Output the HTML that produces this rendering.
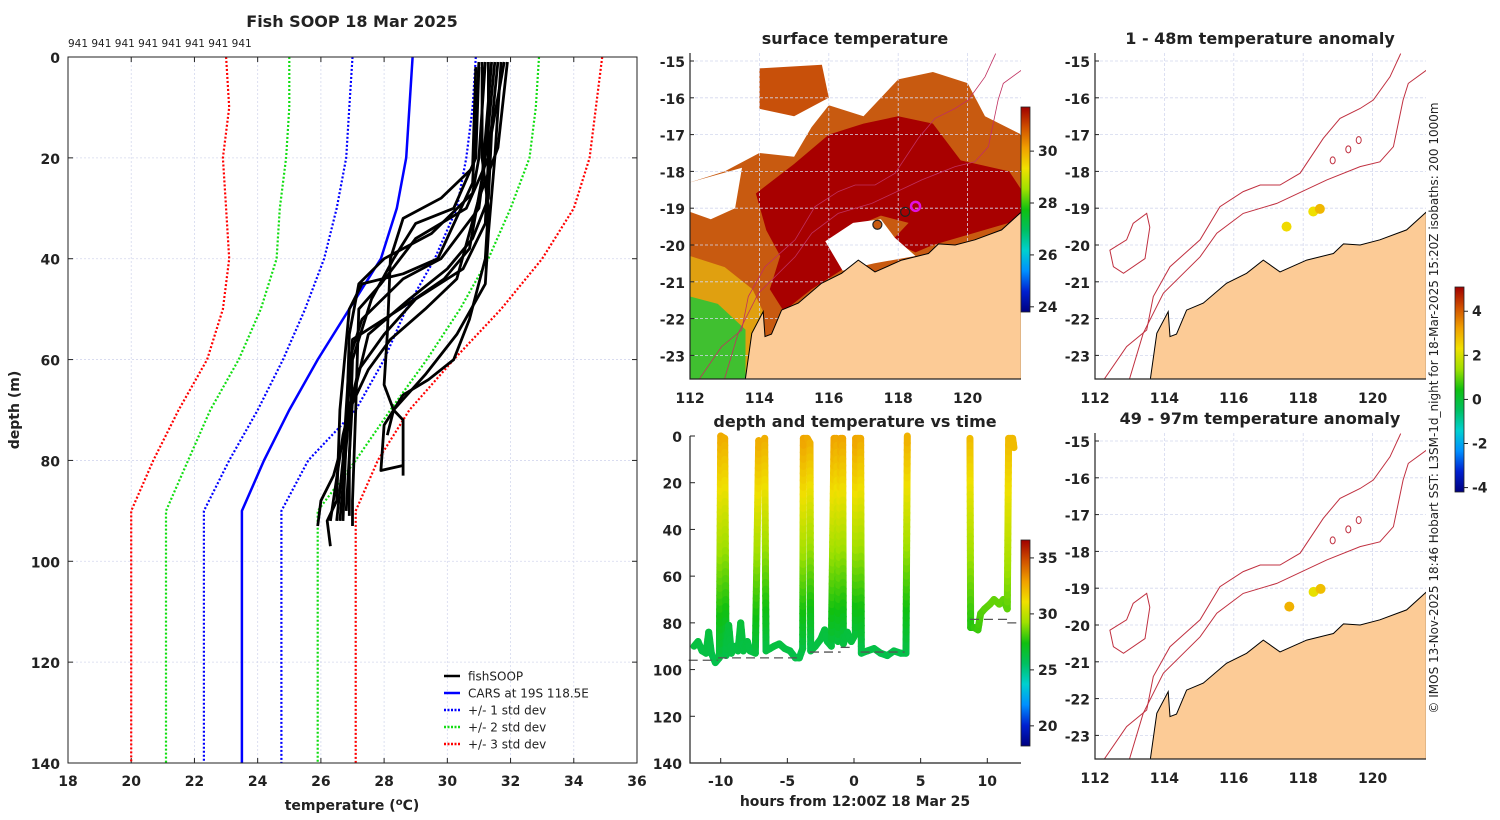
<!DOCTYPE html>
<html><head><meta charset="utf-8"><style>
html,body{margin:0;padding:0;background:#fff}
svg{display:block}
text{font-family:"DejaVu Sans","Liberation Sans",sans-serif;fill:#222}
.tk{font-size:14px;font-weight:bold}
.tt{font-size:16px;font-weight:bold}
</style></head><body>
<svg id="fig" width="1500" height="820" viewBox="0 0 1500 820" xmlns="http://www.w3.org/2000/svg">
<defs id="defs"></defs>
</svg>
<script>
// ---------- data ----------
var profileDepths=[0,10,20,30,40,50,60,70,80,90,140];
var carsMean=[28.9,28.8,28.7,28.4,27.9,26.9,25.9,25.0,24.2,23.5,23.5];
var minus1=[27.0,26.9,26.8,26.5,26.1,25.5,24.8,24.0,23.1,22.3,22.3];
var plus1=[30.9,30.8,30.6,30.3,29.6,28.7,28.0,27.1,25.6,24.75,24.75];
var minus2=[25.0,25.0,24.9,24.7,24.6,24.1,23.4,22.5,21.8,21.1,21.1];
var plus2=[32.9,32.8,32.6,32.0,31.3,30.4,29.35,28.2,27.1,25.9,25.9];
var minus3=[23.0,23.1,22.9,23.0,23.1,22.9,22.4,21.5,20.7,20.0,20.0];
var plus3=[34.9,34.7,34.5,34.0,33.0,31.7,30.2,28.8,27.8,27.1,27.1];
var fishProfiles=[
[[31.2,1],[31.0,20],[30.8,27],[29.5,35],[28.0,40],[27.2,45],[26.9,55],[26.8,75],[26.7,92]],
[[31.5,1],[31.2,20],[31.0,30],[29.8,40],[28.6,44],[27.3,52],[26.9,60],[26.7,80],[26.5,92]],
[[31.0,2],[30.9,20],[30.2,30],[29.0,33],[28.3,40],[27.6,48],[27.0,60],[26.9,80],[26.9,91]],
[[31.8,1],[31.4,15],[31.3,28],[30.8,36],[30.0,42],[28.8,48],[27.5,55],[27.0,68],[26.8,90]],
[[31.3,1],[31.3,20],[31.2,33],[30.5,42],[29.0,48],[28.0,55],[27.2,62],[26.7,75],[26.3,92]],
[[31.1,1],[31.1,20],[31.3,30],[31.2,40],[30.7,52],[30.2,60],[29.4,64],[28.6,67],[28.0,73],[27.9,82],[28.6,81]],
[[31.7,1],[31.5,20],[31.3,35],[31.2,45],[30.3,55],[29.3,63],[28.3,70],[28.1,75]],
[[30.9,2],[30.8,22],[29.8,28],[28.6,32],[28.2,40],[28.1,55],[28.0,65],[28.3,70],[28.6,72],[28.6,83]],
[[31.0,1],[30.8,25],[29.7,40],[28.6,43],[27.3,45],[26.9,50],[26.6,70],[26.5,88],[26.2,92],[26.3,97]],
[[31.6,1],[31.3,20],[30.6,30],[29.0,36],[27.9,45],[27.2,50],[27.1,70],[27.0,88],[27.0,93]],
[[31.4,1],[31.1,24],[30.7,38],[29.9,44],[28.5,50],[27.0,56],[26.8,74],[26.4,83],[26.0,88],[25.9,93]],
[[31.9,1],[31.6,18],[31.0,28],[30.3,44],[29.3,50],[28.2,56],[27.5,62],[26.9,70],[26.6,92]]
];
var xTicksTemp=[18,20,22,24,26,28,30,32,34,36];
var yTicksDepth=[0,20,40,60,80,100,120,140];
var dropLabels=["941","941","941","941","941","941","941","941"];

var group1Hours=[-12.0,-11.7,-11.4,-11.1,-10.9,-10.7,-10.4,-10.1,-10.0,-9.7,-9.6,-9.4,-9.2,-8.9,-8.7,-8.5,-8.3,-8.0,-7.8,-7.4,-7.15,-6.9,-6.7,-6.6,-6.3,-6.0,-5.6,-5.2,-4.8,-4.4,-4.1,-3.85,-3.8,-3.5,-3.3,-3.25,-2.9,-2.5,-2.2,-2.0,-1.7,-1.5,-1.3,-1.2,-1.0,-0.85,-0.8,-0.5,-0.2,0.1,0.12,0.3,0.5,0.55,1.0,1.5,2.0,2.5,3.0,3.5,3.9,4.0];
var group1Depths=[90,88,92,93,84,93,97,95,0,1,94,81,93,90,92,80,92,88,92,93,2,3,1,92,91,90,89,91,92,95,95,91,1,1,3,92,90,87,83,88,90,1,1,88,1,1,89,84,88,85,1,1,1,93,92,91,93,94,92,93,93,0];
var group1Temps=[26.3,26.3,26.2,26.2,26.4,26.2,26.0,26.1,32.6,32.6,26.1,26.5,26.2,26.2,26.2,26.5,26.2,26.3,26.2,26.2,32.6,32.5,32.6,26.2,26.2,26.3,26.3,26.2,26.2,26.1,26.1,26.2,32.8,32.7,32.5,26.1,26.2,26.3,26.4,26.3,26.2,32.8,32.8,26.3,32.8,32.8,26.3,26.4,26.3,26.4,32.8,32.7,32.7,26.1,26.1,26.2,26.1,26.0,26.1,26.1,26.0,32.5];
var group2Hours=[8.7,8.75,9.0,9.3,9.5,9.8,10.2,10.5,10.9,11.2,11.5,11.6,11.9,12.0];
var group2Depths=[1,82,82,83,76,74,72,70,72,70,74,1,1,5];
var group2Temps=[32.2,27.6,27.8,27.9,28.2,28.3,28.4,28.5,28.4,28.5,28.3,32.2,32.2,32.1];
var bottomHours=[-12.4,-10.2,-10.2,-4.0,-3.3,-1.0,-1.0,0.0,0.5,3.8,8.7,11.5,11.5,12.6];
var bottomDepths=[96,96,95,95,92.5,92.5,90.5,90.5,92.5,92.5,78.5,78.5,80,80];
var xTicksHours=[-10,-5,0,5,10];
var yTicksDepth2=[0,20,40,60,80,100,120,140];
var cbTicksTime=[20,25,30,35];

var lonTicks=[112,114,116,118,120];
var latTicks=[-15,-16,-17,-18,-19,-20,-21,-22,-23];
var sstTicks=[24,26,28,30];
var anomTicks=[-4,-2,0,2,4];
var coastLon=[113.58,113.78,114.11,114.16,114.35,114.64,115.12,115.79,116.37,116.85,117.33,118.1,118.87,119.16,119.64,120.21,120.98,121.55,121.55];
var coastLat=[-23.75,-22.4,-21.81,-22.49,-22.42,-21.77,-21.58,-21.04,-20.77,-20.41,-20.73,-20.41,-20.23,-19.97,-20.0,-19.86,-19.59,-19.1,-23.75];
var iso200Lon=[112.96,113.39,113.97,115.03,115.51,116.27,117.24,118.68,119.64,120.21,120.6,120.88,121.03,121.55];
var iso200Lat=[-23.75,-22.4,-21.31,-20.32,-19.68,-19.14,-18.87,-18.23,-17.87,-17.74,-17.33,-16.06,-15.61,-15.25];
var iso1000Lon=[112.19,112.91,113.49,113.68,114.16,115.03,115.6,116.27,116.76,117.33,117.91,118.58,119.06,119.64,120.02,120.5,120.81];
var iso1000Lat=[-23.75,-22.76,-22.31,-21.4,-20.59,-19.86,-18.96,-18.55,-18.37,-18.37,-18.05,-17.1,-16.56,-16.29,-16.06,-15.43,-14.8];
var islandLon=[112.43,112.91,113.1,113.49,113.58,113.44,112.82,112.53];
var islandLat=[-20.14,-19.86,-19.41,-19.14,-19.52,-20.37,-20.77,-20.59];
var sstOrangeLon=[112,113,114,115,115.5,116,117,118,119,120,120.5,121.55,121.55,114.3,113.6,112];
var sstOrangeLat=[-18.3,-18,-17.5,-17.6,-16.8,-16.2,-16.5,-15.5,-15.3,-15.6,-16.5,-17,-20,-22.6,-23.75,-23.75];
var sstRedLon=[113.9,115,116,117,118,119,119.8,121.2,121.55,121.55,119,118.5,117.8,118.3,117.5,116.5,116.0,116.5,115.5,114.7,114.3,114.6,114.2];
var sstRedLat=[-18.6,-17.8,-17.0,-16.7,-16.5,-16.7,-17.7,-18.0,-18.5,-19.3,-20.0,-20.2,-19.9,-19.4,-19.2,-19.6,-20.0,-20.6,-21.2,-21.8,-21.2,-20.3,-19.6];
var sstClearLon=[115.9,116.7,117.5,117.9,118.5,117.3,116.4];
var sstClearLat=[-19.9,-19.4,-19.3,-19.8,-20.3,-20.5,-20.7];
var sstYellowLon=[112,113,113.8,114.1,113.8,112];
var sstYellowLat=[-20.3,-20.6,-21.2,-21.8,-23.75,-23.75];
var sstGreenLon=[112,112.8,113.6,113.6,112];
var sstGreenLat=[-21.4,-21.6,-22.3,-23.75,-23.75];
var sstNorthLon=[114,115.8,116,115,114];
var sstNorthLat=[-15.2,-15.1,-16,-16.5,-16.3];
var sstCloudLon=[112,113.5,113.3,112.6,112];
var sstCloudLat=[-18.3,-17.9,-19.0,-19.3,-19.1];
var anomTopLon=[117.52,118.29,118.48];
var anomTopLat=[-19.5,-19.09,-19.02];
var anomTopVal=[2.4,2.3,2.9];
var anomBotLon=[117.6,118.3,118.5];
var anomBotLat=[-19.5,-19.1,-19.02];
var anomBotVal=[3.0,2.2,2.8];

// ---------- helpers ----------
var NS="http://www.w3.org/2000/svg";
var svg=document.getElementById('fig');
function mk(tag,parent){var e=document.createElementNS(NS,tag);(parent||svg).appendChild(e);return e;}
function set(e,o){for(var k in o)e.setAttribute(k,o[k]);return e;}
var stops=[[0,'#00007f'],[0.1,'#0020d0'],[0.2,'#0090ff'],[0.3,'#00d0d0'],[0.4,'#00c060'],[0.5,'#10c010'],[0.6,'#a0e000'],[0.7,'#f0e000'],[0.8,'#f0a000'],[0.9,'#d05000'],[1,'#a00000']];
function hx(c){return [parseInt(c.substr(1,2),16),parseInt(c.substr(3,2),16),parseInt(c.substr(5,2),16)];}
function cmap(f){f=Math.max(0,Math.min(1,f));for(var i=1;i<stops.length;i++){if(f<=stops[i][0]){var a=stops[i-1],b=stops[i],t=(f-a[0])/(b[0]-a[0]);var ca=hx(a[1]),cb=hx(b[1]);return 'rgb('+ca.map(function(v,j){return Math.round(v+(cb[j]-v)*t);}).join(',')+')';}}return stops[stops.length-1][1];}
var defs=document.getElementById('defs');
var grad=mk('linearGradient',defs);set(grad,{id:'jet',x1:0,y1:1,x2:0,y2:0});
stops.forEach(function(s){var st=mk('stop',grad);set(st,{offset:s[0],'stop-color':s[1]});});
function txt(x,y,s,cls,anchor,parent){var t=mk('text',parent);set(t,{x:x,y:y,'text-anchor':anchor||'middle'});if(cls)t.setAttribute('class',cls);t.textContent=s;return t;}
function pathFrom(xs,ys,close){var d='';for(var i=0;i<xs.length;i++)d+=(i?'L':'M')+xs[i].toFixed(1)+' '+ys[i].toFixed(1);return d+(close?'Z':'');}

// ---------- left profile panel ----------
var L={x0:68,x1:637,y0:57,y1:763};
function sx(t){return L.x0+(t-18)*(L.x1-L.x0)/18;}
function sy(d){return L.y0+d*(L.y1-L.y0)/140;}
var gL=mk('g');
var t1=txt(352,27,'Fish SOOP 18 Mar 2025','tt','middle',gL);
var dl=txt(68,47,dropLabels.join(' '),null,'start',gL);dl.setAttribute('font-size','10.5');
xTicksTemp.forEach(function(v){var x=sx(v);
 var g=mk('line',gL);set(g,{x1:x,x2:x,y1:L.y0,y2:L.y1,stroke:'#d4d8ee','stroke-width':0.8,'stroke-dasharray':'2,2'});
 
 var tk=mk('line',gL);set(tk,{x1:x,x2:x,y1:L.y0,y2:L.y0+5,stroke:'#222'});
 var tb=mk('line',gL);set(tb,{x1:x,x2:x,y1:L.y1,y2:L.y1-5,stroke:'#222'});
 var l=txt(x,786,String(v),'tk','middle',gL);});
yTicksDepth.forEach(function(v){var y=sy(v);
 var g=mk('line',gL);set(g,{x1:L.x0,x2:L.x1,y1:y,y2:y,stroke:'#d4d8ee','stroke-width':0.8,'stroke-dasharray':'2,2'});
 
 var tk=mk('line',gL);set(tk,{x1:L.x0,x2:L.x0+5,y1:y,y2:y,stroke:'#222'});
 var tr=mk('line',gL);set(tr,{x1:L.x1,x2:L.x1-5,y1:y,y2:y,stroke:'#222'});
 var l=txt(L.x0-8,y+6,String(v),'tk','end',gL);});
var xt=txt(352,810,'','tk','middle',gL);xt.setAttribute('font-size','15');xt.innerHTML='temperature (<tspan baseline-shift="super" font-size="10">o</tspan>C)';

var yt=txt(0,0,'depth (m)','tk','middle',gL);yt.setAttribute('font-size','15');set(yt,{transform:'translate(19,410) rotate(-90)'});

function refLine(arr,color,dash,name){var p=mk('path',gL);
 set(p,{d:pathFrom(arr.map(sx),profileDepths.map(sy)),fill:'none',stroke:color,'stroke-width':dash?2.2:2.5});
 if(dash)p.setAttribute('stroke-dasharray','2,2');}
refLine(minus3,'#f00',true,'minus-3-std-line');refLine(plus3,'#f00',true,'plus-3-std-line');
refLine(minus2,'#1d1',true,'minus-2-std-line');refLine(plus2,'#1d1',true,'plus-2-std-line');
refLine(minus1,'#00f',true,'minus-1-std-line');refLine(plus1,'#00f',true,'plus-1-std-line');
refLine(carsMean,'#00f',false,'cars-mean-line');
fishProfiles.forEach(function(pr){var p=mk('path',gL);
 set(p,{d:pathFrom(pr.map(function(q){return sx(q[0]);}),pr.map(function(q){return sy(q[1]);})),fill:'none',stroke:'#000','stroke-width':2.8,'stroke-linejoin':'round'});
 });
var fr=mk('rect',gL);set(fr,{x:L.x0,y:L.y0,width:L.x1-L.x0,height:L.y1-L.y0,fill:'none',stroke:'#222','stroke-width':1});

var leg=mk('g',gL);
[['fishSOOP','#000',false],['CARS at 19S 118.5E','#00f',false],['+/- 1 std dev','#00f',true],['+/- 2 std dev','#1d1',true],['+/- 3 std dev','#f00',true]].forEach(function(e,i){
 var y=676+i*17;var ln=mk('line',leg);set(ln,{x1:444,x2:460,y1:y,y2:y,stroke:e[1],'stroke-width':2.5});if(e[2])ln.setAttribute('stroke-dasharray','2,1.5');
 var lt=txt(468,y+4.5,e[0],null,'start',leg);lt.setAttribute('font-size','12');});

// ---------- map helpers ----------
function mapPanel(x0,y0,name){var g=mk('g');
 var cid='clip'+name;var cp=mk('clipPath',defs);cp.setAttribute('id',cid);var cr=mk('rect',cp);set(cr,{x:x0,y:y0-4,width:331,height:326});
 var inner=mk('g',g);inner.setAttribute('clip-path','url(#'+cid+')');
 var P={g:g,inner:inner,x:function(lon){return x0+(lon-112)*34.7;},y:function(lat){return y0+4+(-15-lat)*36.8;},x0:x0,y0:y0-4};return P;}
function poly(P,lons,lats,fill,stroke,name,sw){var p=mk('path',P.inner);
 set(p,{d:pathFrom(lons.map(P.x),lats.map(P.y),!!fill),fill:fill||'none',stroke:stroke||'none','stroke-width':sw||1});
 return p;}
function mapFrame(P){
 lonTicks.forEach(function(v){var x=P.x(v);var g=mk('line',P.inner);set(g,{x1:x,x2:x,y1:P.y0,y2:P.y0+326,stroke:'#d4d8ee','stroke-width':0.8,'stroke-dasharray':'3,2'});
  
  var l=txt(x,P.y0+350,String(v),'tk','middle',P.g);l.setAttribute('font-size','15');});
 latTicks.forEach(function(v){var y=P.y(v);var g=mk('line',P.inner);set(g,{x1:P.x0,x2:P.x0+331,y1:y,y2:y,stroke:'#d4d8ee','stroke-width':0.8,'stroke-dasharray':'3,2'});
  
  var tk=mk('line',P.g);set(tk,{x1:P.x0,x2:P.x0+4,y1:y,y2:y,stroke:'#222'});
  var l=txt(P.x0-5,y+6,String(v),'tk','end',P.g);l.setAttribute('font-size','15');});}
function mapBorder(P){var fr=mk('path',P.g);set(fr,{d:'M'+P.x0+' '+P.y0+'V'+(P.y0+326)+'H'+(P.x0+331),fill:'none',stroke:'#222','stroke-width':1.2});
 }
function colorbar(x,y,h,vmin,vmax,ticks,name){var g=mk('g');
 var r=mk('rect',g);set(r,{x:x,y:y,width:9,height:h,fill:'url(#jet)',stroke:'#222','stroke-width':0.8});
 ticks.forEach(function(v){var yy=y+h-(v-vmin)/(vmax-vmin)*h;var tk=mk('line',g);set(tk,{x1:x+9,x2:x+13,y1:yy,y2:yy,stroke:'#222'});
  var l=txt(x+17,yy+5,String(v),'tk','start',g);l.setAttribute('font-size','12');});}

// ---------- SST map ----------
var S=mapPanel(690,57,'sst-map');
var st=txt(855,44,'surface temperature','tt','middle',S.g);
poly(S,sstNorthLon,sstNorthLat,'#c8500a',null,'sst-north-patch');
poly(S,sstOrangeLon,sstOrangeLat,'#c85a10',null,'sst-warm-region');
poly(S,sstCloudLon,sstCloudLat,'#ffffff',null,'sst-cloud-patch');
poly(S,sstYellowLon,sstYellowLat,'#e0a010',null,'sst-yellow-region');
poly(S,sstGreenLon,sstGreenLat,'#40c030',null,'sst-cool-region');
poly(S,sstRedLon,sstRedLat,'#a80000',null,'sst-hot-region');
poly(S,sstClearLon,sstClearLat,'#ffffff',null,'sst-cloud-gap');
mapFrame(S);
poly(S,iso200Lon,iso200Lat,null,'#c03060','isobath-200',0.8);
poly(S,iso1000Lon,iso1000Lat,null,'#c03060','isobath-1000',0.8);
poly(S,coastLon,coastLat,'#fccb96','#000','land',1);
var m1=mk('circle',S.inner);set(m1,{cx:S.x(117.4),cy:S.y(-19.45),r:4.5,fill:'#c85a10',stroke:'#222','stroke-width':1.2});
var m2=mk('circle',S.inner);set(m2,{cx:S.x(118.2),cy:S.y(-19.1),r:4.5,fill:'none',stroke:'#222','stroke-width':1.2});
var m3=mk('circle',S.inner);set(m3,{cx:S.x(118.5),cy:S.y(-18.95),r:4.5,fill:'none',stroke:'#e010e0','stroke-width':2.5});
mapBorder(S);
colorbar(1021,107,205,23.8,31.7,sstTicks,'sst-colorbar');

// ---------- anomaly maps ----------
function anomMap(y0,title,lons,lats,vals,name){var P=mapPanel(1095,y0,name);
 var t=txt(1260,y0-13,title,'tt','middle',P.g);
 mapFrame(P);
 poly(P,iso200Lon,iso200Lat,null,'#c03040','isobath-200',1);
 poly(P,iso1000Lon,iso1000Lat,null,'#c03040','isobath-1000',1);
 poly(P,islandLon,islandLat,'none','#c03040','island-isobath',1);
 [[118.85,-17.7],[119.3,-17.4],[119.6,-17.15]].forEach(function(c){var e=mk('ellipse',P.inner);set(e,{cx:P.x(c[0]),cy:P.y(c[1]),rx:2.5,ry:3.5,fill:'none',stroke:'#c03040'});});
 poly(P,coastLon,coastLat,'#fccb96','#000','land',1);
 lons.forEach(function(lo,i){var c=mk('circle',P.inner);set(c,{cx:P.x(lo),cy:P.y(lats[i]),r:5,fill:cmap((vals[i]+4.2)/9.3)});
  });
 mapBorder(P);}
anomMap(57,'1 - 48m temperature anomaly',anomTopLon,anomTopLat,anomTopVal,'anomaly-map-shallow');
anomMap(437,'49 - 97m temperature anomaly',anomBotLon,anomBotLat,anomBotVal,'anomaly-map-deep');
colorbar(1455,287,205,-4.2,5.1,anomTicks,'anomaly-colorbar');
var cr=txt(0,0,'© IMOS 13-Nov-2025 18:46 Hobart SST: L3SM-1d_night for 18-Mar-2025 15:20Z isobaths: 200  1000m',null,'middle');
set(cr,{transform:'translate(1438,408) rotate(-90)','font-size':'12'});

// ---------- depth/temperature vs time ----------
var T={x0:690,x1:1021,y0:436,y1:763};
function tx(h){return 854+h*13.33;}
function ty(d){return T.y0+d*(T.y1-T.y0)/140;}
var gT=mk('g');
var tt=txt(855,427,'depth and temperature vs time','tt','middle',gT);
var tvmin=18.2,tvmax=36.6;
function drawTrack(hs,ds,ts,name){var g=mk('g',gT);
 for(var i=0;i<hs.length-1;i++){var n=Math.max(1,Math.ceil(Math.abs(ds[i+1]-ds[i])/3));
  for(var k=0;k<n;k++){var a=k/n,b=(k+1)/n;var s=mk('line',g);
   var tm=ts[i]+(ts[i+1]-ts[i])*(a+b)/2;
   set(s,{x1:tx(hs[i]+(hs[i+1]-hs[i])*a),y1:ty(ds[i]+(ds[i+1]-ds[i])*a),x2:tx(hs[i]+(hs[i+1]-hs[i])*b),y2:ty(ds[i]+(ds[i+1]-ds[i])*b),stroke:cmap((tm-tvmin)/(tvmax-tvmin)),'stroke-width':7,'stroke-linecap':'round'});}}}
drawTrack(group1Hours,group1Depths,group1Temps,'track-segment-1');
drawTrack(group2Hours,group2Depths,group2Temps,'track-segment-2');
for(var i=0;i<bottomHours.length-1;i+=2){var b=mk('line',gT);
 set(b,{x1:tx(bottomHours[i]),x2:tx(bottomHours[i+1]),y1:ty(bottomDepths[i]),y2:ty(bottomDepths[i+1]),stroke:'#555','stroke-width':1.3,'stroke-dasharray':'9,5'});
 }
xTicksHours.forEach(function(v){var x=tx(v);var tk=mk('line',gT);set(tk,{x1:x,x2:x,y1:T.y1,y2:T.y1-5,stroke:'#222'});
 var l=txt(x,786,String(v),'tk','middle',gT);l.setAttribute('font-size','15');});
yTicksDepth2.forEach(function(v){var y=ty(v);var tk=mk('line',gT);set(tk,{x1:T.x0,x2:T.x0+5,y1:y,y2:y,stroke:'#222'});
 var l=txt(T.x0-8,y+6,String(v),'tk','end',gT);l.setAttribute('font-size','15');});
var ax=mk('path',gT);set(ax,{d:'M'+T.x0+' '+T.y0+'V'+T.y1+'H'+T.x1,fill:'none',stroke:'#222','stroke-width':1.2});
var hx2=txt(855,806,'hours from 12:00Z 18 Mar 25','tk','middle',gT);hx2.setAttribute('font-size','15');
colorbar(1021,540,206,tvmin,tvmax,cbTicksTime,'time-temp-colorbar');
</script>
</body></html>
